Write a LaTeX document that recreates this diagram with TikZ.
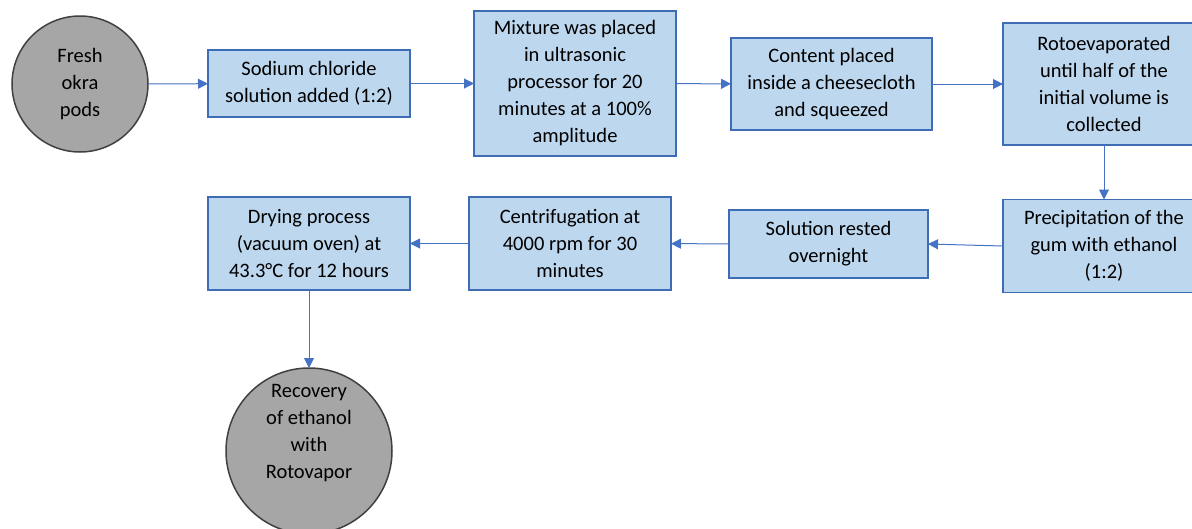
\documentclass[tikz,border=0pt]{standalone}
\usepackage{fontspec}
\setmainfont{Carlito}
\usepackage{tikz}
\usetikzlibrary{arrows.meta,shapes.geometric}

\definecolor{boxfill}{HTML}{BDD7EE}
\definecolor{boxline}{HTML}{3E6DB5}
\definecolor{arrline}{HTML}{4472C4}
\definecolor{podfill}{HTML}{A6A6A6}
\definecolor{podline}{HTML}{404040}

\begin{document}
\begin{tikzpicture}[
    x=1pt, y=-1pt,
    procbox/.style={rectangle, draw=boxline, fill=boxfill, line width=1.5pt, minimum width=202pt, minimum height=#1, inner sep=0pt, outer sep=0pt, align=center, font=\fontsize{20.5}{27}\selectfont},
    procbox/.default=93pt,
    podcirc/.style={circle, draw=podline, fill=podfill, line width=1.5pt, minimum size=#1, inner sep=0pt, outer sep=0pt, align=center, font=\fontsize{20.5}{27}\selectfont},
    arr/.style={-{Triangle[length=10pt, width=10pt]}, line width=1pt, color=arrline},
  ]
    \clip (0,0) rectangle (1192,528);

    % Top row
    \node[podcirc=136pt] (okra) at (80,84) {Fresh\\okra\\pods};
    \node[procbox=67pt] (salt) at (309,83.5) {Sodium chloride\\solution added (1:2)};
    \node[procbox=145pt] (sonic) at (575,83.5) {Mixture was placed\\in ultrasonic\\processor for 20\\minutes at a 100\%\\amplitude};
    \node[procbox=92pt, minimum width=201pt] (cloth) at (831.5,84) {Content placed\\inside a cheesecloth\\and squeezed};
    \node[procbox=122pt] (roto) at (1104,84) {Rotoevaporated\\until half of the\\initial volume is\\collected};

    % Bottom row
    \node[procbox] (precip) at (1104,246) {Precipitation of the\\gum with ethanol\\(1:2)};
    \node[procbox=68pt, minimum width=199pt] (rest) at (828.5,244) {Solution rested\\overnight};
    \node[procbox] (centri) at (570,243.5) {Centrifugation at\\4000 rpm for 30\\minutes};
    \node[procbox] (dry) at (309,243.5) {Drying process\\(vacuum oven) at\\43.3°C for 12 hours};

    % End
    \node[podcirc=166pt, text depth=39pt] (recov) at (309,451) {Recovery\\of ethanol\\with\\Rotovapor};

    % Arrows
    \draw[arr] (okra) -- (salt);
    \draw[arr] (salt) -- (sonic);
    \draw[arr] (sonic) -- (cloth);
    \draw[arr] (cloth) -- (roto);
    \draw[arr] (roto) -- (precip);
    \draw[arr] (precip.west) -- (rest.east);
    \draw[arr] (rest) -- (centri);
    \draw[arr] (centri) -- (dry);
    \draw[arr] (dry) -- (recov);

  \end{tikzpicture}
\end{document}
